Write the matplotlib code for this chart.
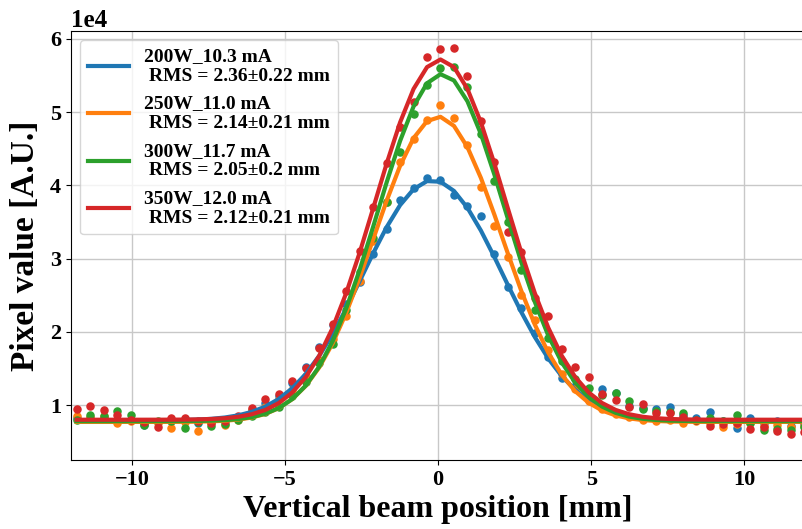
import numpy as np
import matplotlib
matplotlib.use("Agg")
import matplotlib.pyplot as plt

plt.rcParams['font.family'] = ['Liberation Serif', 'DejaVu Serif']
plt.rcParams['font.weight'] = 'bold'
plt.rcParams['axes.labelweight'] = 'bold'

# positions [mm]
x_mm = [-11.8, -11.36, -10.92, -10.48, -10.04, -9.6, -9.16, -8.72, -8.28, -7.84,
        -7.4, -6.96, -6.52, -6.08, -5.64, -5.2, -4.76, -4.32, -3.88, -3.44,
        -3.0, -2.56, -2.12, -1.68, -1.24, -0.8, -0.36, 0.08, 0.52, 0.96,
        1.4, 1.84, 2.28, 2.72, 3.16, 3.6, 4.04, 4.48, 4.92, 5.36,
        5.8, 6.24, 6.68, 7.12, 7.56, 8.0, 8.44, 8.88, 9.32, 9.76,
        10.2, 10.64, 11.08, 11.52, 11.96]

# measured pixel values (units of 1e4)
blue_vals = [0.82, 0.82, 0.83, 0.80, 0.79, 0.73, 0.77, 0.78, 0.79, 0.75,
             0.78, 0.79, 0.84, 0.93, 1.03, 1.13, 1.30, 1.52, 1.80, 2.09,
             2.38, 2.68, 3.07, 3.41, 3.80, 3.96, 4.10, 4.07, 3.87, 3.72,
             3.58, 3.06, 2.61, 2.33, 1.98, 1.66, 1.37, 1.26, 1.12, 1.22,
             1.17, 0.99, 0.96, 0.95, 0.98, 0.86, 0.83, 0.90, 0.78, 0.69,
             0.82, 0.76, 0.78, 0.72, 0.74]
orange_vals = [0.85, 0.84, 0.85, 0.75, 0.78, 0.76, 0.76, 0.69, 0.77, 0.64,
               0.76, 0.73, 0.80, 0.93, 0.98, 1.08, 1.20, 1.40, 1.62, 1.90,
               2.21, 2.70, 3.24, 3.78, 4.32, 4.63, 4.90, 5.10, 4.92, 4.55,
               3.98, 3.45, 3.02, 2.50, 2.16, 1.75, 1.42, 1.22, 1.05, 0.95,
               0.88, 0.84, 0.80, 0.78, 0.80, 0.76, 0.78, 0.75, 0.70, 0.74,
               0.76, 0.72, 0.73, 0.70, 0.72]
green_vals = [0.80, 0.86, 0.85, 0.92, 0.86, 0.73, 0.78, 0.78, 0.69, 0.77,
              0.71, 0.74, 0.79, 0.85, 0.90, 0.98, 1.12, 1.32, 1.58, 1.84,
              2.30, 2.82, 3.28, 3.78, 4.46, 4.98, 5.37, 5.60, 5.62, 5.34,
              4.70, 4.06, 3.50, 2.84, 2.30, 1.92, 1.60, 1.35, 1.24, 1.14,
              1.16, 1.05, 0.94, 0.92, 0.91, 0.895, 0.80, 0.82, 0.78, 0.86,
              0.75, 0.66, 0.67, 0.66, 0.70]
red_vals = [0.95, 0.985, 0.93, 0.86, 0.79, 0.77, 0.70, 0.83, 0.83, 0.78,
            0.75, 0.78, 0.85, 0.96, 1.08, 1.15, 1.33, 1.50, 1.78, 2.11,
            2.56, 3.10, 3.70, 4.30, 4.80, 5.14, 5.76, 5.86, 5.87, 5.49,
            4.88, 4.32, 3.37, 3.09, 2.46, 2.21, 1.77, 1.52, 1.39, 1.15,
            1.07, 0.97, 1.01, 0.89, 0.89, 0.84, 0.79, 0.72, 0.74, 0.76,
            0.68, 0.70, 0.64, 0.61, 0.63]

labels = ["200W_10.3 mA\n RMS = 2.36\u00b10.22 mm",
          "250W_11.0 mA\n RMS = 2.14\u00b10.21 mm",
          "300W_11.7 mA\n RMS = 2.05\u00b10.2 mm",
          "350W_12.0 mA\n RMS = 2.12\u00b10.21 mm"]
colors = ['#1f77b4', '#ff7f0e', '#2ca02c', '#d62728']

# Gaussian fit parameters (offset, amplitude, centre, sigma), units 1e4 / mm
fit_offset = [0.79, 0.77, 0.78, 0.80]
fit_amp = [3.28, 4.17, 4.74, 4.92]
fit_center = [-0.17, 0.0, 0.12, 0.08]
fit_sigma = [2.29, 2.09, 2.08, 2.13]

series = [blue_vals, orange_vals, green_vals, red_vals]

fig = plt.figure(figsize=(8.02, 5.29), dpi=100)
ax = fig.add_axes([70.6 / 802, 1 - 460 / 529, (805.5 - 70.6) / 802, (460 - 30.7) / 529])

xs = np.array(x_mm)
for vals, lab, col, b, a, c, s in zip(series, labels, colors, fit_offset, fit_amp, fit_center, fit_sigma):
    ax.scatter(xs, np.array(vals) * 1e4, s=26, color=col, zorder=2)
    fit = (b + a * np.exp(-(xs - c) ** 2 / (2 * s ** 2))) * 1e4
    ax.plot(xs, fit, color=col, lw=3, label=lab, zorder=3)

ax.set_xlim(-12, 12)
ax.set_ylim(0.25e4, 6.113e4)
ax.set_xticks([-10, -5, 0, 5, 10])
ax.ticklabel_format(axis='y', style='sci', scilimits=(0, 0), useMathText=False)
ax.grid(True, color='#c8c8c8', lw=1)
ax.set_axisbelow(True)
ax.spines['right'].set_visible(False)

ax.tick_params(labelsize=16)
ax.set_xlabel("Vertical beam position [mm]", fontsize=23, labelpad=4)
ax.set_ylabel("Pixel value [A.U.]", fontsize=24, labelpad=6)

leg = ax.legend(loc='upper left', handlelength=2.1, labelspacing=0.55,
                borderaxespad=0.5, prop={'weight': 'bold', 'size': 14})

fig.canvas.draw()
ot = ax.yaxis.get_offset_text()
ot.set_fontsize(18)
ot.set_fontweight('bold')

fig.savefig("out.png", dpi=100)
